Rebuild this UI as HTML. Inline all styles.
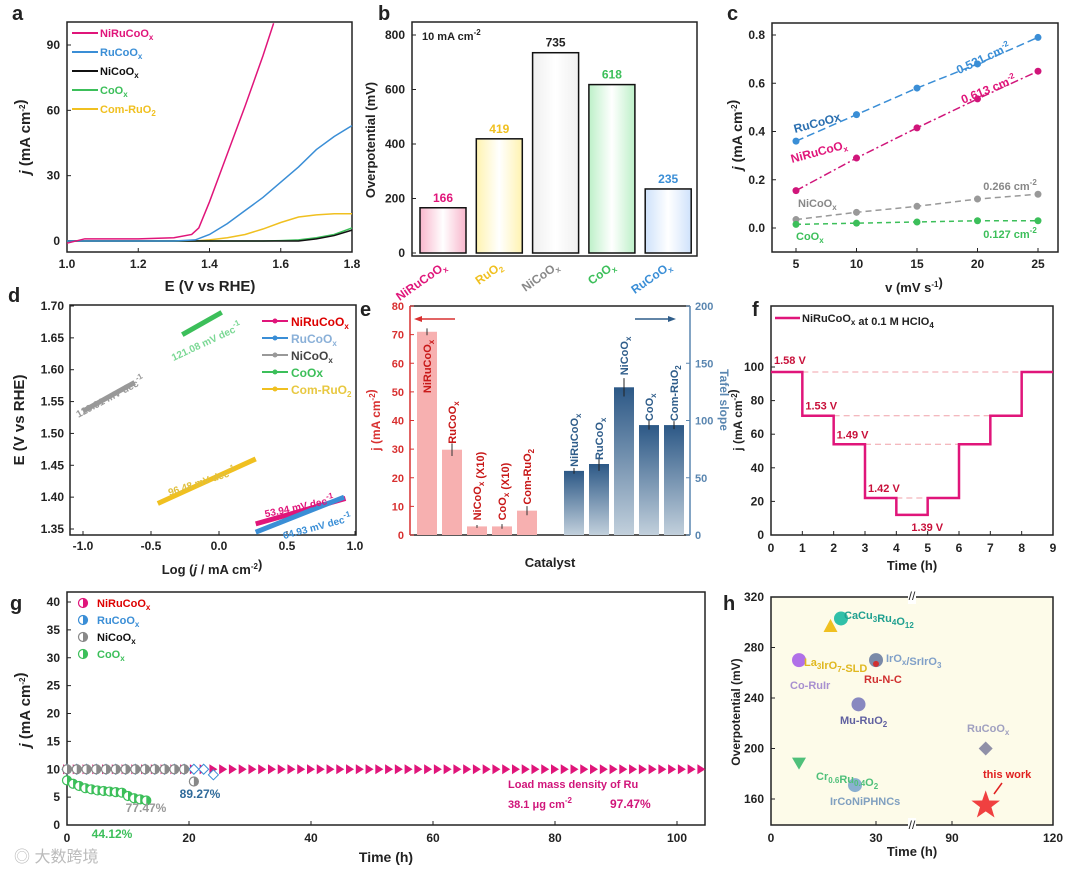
<!DOCTYPE html>
<html><head><meta charset="utf-8"><style>
html,body{margin:0;padding:0;background:#fff}
svg{display:block;font-family:"Liberation Sans",Arial,sans-serif}
</style></head><body>
<svg id="s" width="1080" height="876" viewBox="0 0 1080 876" xmlns="http://www.w3.org/2000/svg"></svg>
<script>
// ---------- data ----------
const aX=[1.0,1.05,1.1,1.2,1.3,1.35,1.37,1.4,1.45,1.5,1.55,1.58];
const aNiRu=[-1,1,1,1,1.5,3,6,18,40,62,85,100];
const aEx=[1.0,1.1,1.2,1.3,1.36,1.4,1.45,1.5,1.55,1.6,1.65,1.7,1.75,1.8];
const aRu=[0,0,0,0,0.5,3,8,14,20,27,34,42,48,53];
const aNiCo=[0,0,0,0,0,0,0,0,0,0,0,1,2.5,5];
const aCo=[0,0,0,0,0,0,0,0,0,0.2,0.5,1.5,3,6];
const aCom=[0,0,0,0,0,0.5,1.5,3,5.5,8.5,11,12,12.5,12.5];
const bCats=["NiRuCoOx","RuO2","NiCoOx","CoOx","RuCoOx"];
const bVals=[166,419,735,618,235];
const cV=[5,10,15,20,25];
const cRu=[0.36,0.47,0.58,0.68,0.79];
const cNiRu=[0.155,0.29,0.415,0.535,0.65];
const cNiCo=[0.035,0.065,0.09,0.12,0.14];
const cCo=[0.015,0.02,0.025,0.03,0.03];
const dNiCo=[[-1,1.535],[-0.62,1.58]];
const dCo=[[-0.27,1.655],[0.02,1.69]];
const dCom=[[-0.45,1.39],[0.27,1.46]];
const dNiRu=[[0.27,1.358],[0.93,1.398]];
const dRu=[[0.27,1.345],[0.92,1.40]];
const eJ=[71,29.8,3,3,8.5];
const eJerr=[1.2,2.2,0.5,0.8,1.6];
const eT=[56,62,129,96,96];
const eTerr=[2.5,6,8,4,3.5];
const fT=[0,1,2,3,4,5,6,7,8,9];
const fJ=[97,71,54,22,12,22,54,71,97];
const fV=["1.58 V","1.53 V","1.49 V","1.42 V","1.39 V"];
const gCoT=[0,1,2,3,4,5,6,7,8,9,10,11,12,13];
const gCo=[8,7.4,7,6.6,6.4,6.2,6.1,6,5.9,5.8,5.2,4.8,4.6,4.4];
const hNames=["Cr0.6Ru0.4O2","Co-RuIr","La3IrO7-SLD","CaCu3Ru4O12","IrCoNiPHNCs","Mu-RuO2","IrOx/SrIrO3","Ru-N-C","RuCoOx","this work"];
const hT=[8,8,17,20,24,25,30,30,100,100];
const hEta=[188,270,297,303,171,235,270,267,200,155];

const S=document.getElementById('s');
const NS="http://www.w3.org/2000/svg";
function el(t,a,name,p){const e=document.createElementNS(NS,t);for(const k in a)e.setAttribute(k,a[k]);


(p||S).appendChild(e);return e;}
function tx(x,y,s,o,name){o=o||{};const e=el('text',{x:x,y:y,'font-size':o.fs||12,'font-weight':o.fw||'bold',fill:o.c||'#222','text-anchor':o.a||'middle'},name||'label');
if(o.r)e.setAttribute('transform','rotate('+o.r+' '+x+' '+y+')');e.innerHTML=s;return e;}
function frame(x0,y0,x1,y1,name){el('rect',{x:x0,y:y0,width:x1-x0,height:y1-y0,fill:'none',stroke:'#222','stroke-width':1.5},name);}
function lin(d0,d1,p0,p1){return v=>p0+(v-d0)*(p1-p0)/(d1-d0);}
function poly(xs,ys,fx,fy,c,w,name,dash){el('polyline',{points:xs.map((x,i)=>fx(x)+','+fy(ys[i])).join(' '),fill:'none',stroke:c,'stroke-width':w,'stroke-dasharray':dash||'none'},name);}
const sub=s=>'<tspan font-size="8" dy="3">'+s+'</tspan><tspan dy="-3"></tspan>';
const sup=s=>'<tspan font-size="8" dy="-5">'+s+'</tspan><tspan dy="5"></tspan>';
const PINK='#e0157a',BLUE='#3a8ed6',GRN='#3cbf5a',YEL='#f0c020';

// ---------- panel a ----------
{const X=lin(1,1.8,67,352),Y=lin(0,90,241,45);
tx(12,20,'a',{fs:20,a:'start'},'panel-a-letter');
frame(67,22,352,252,'panel-a-frame');
[1,1.2,1.4,1.6,1.8].forEach(v=>{el('line',{x1:X(v),x2:X(v),y1:252,y2:248,stroke:'#222'},'x-tick');tx(X(v),268,v.toFixed(1),{fs:12},'x-tick-label');});
[0,30,60,90].forEach(v=>{el('line',{x1:67,x2:71,y1:Y(v),y2:Y(v),stroke:'#222'},'y-tick');tx(60,Y(v)+4,v,{fs:12,a:'end'},'y-tick-label');});
tx(210,291,'E (V vs RHE)',{fs:15},'x-axis-title');
tx(30,137,'<tspan font-style="italic">j</tspan> (mA cm'+sup('-2')+')',{fs:15,r:-90},'y-axis-title');
poly(aEx,aCom,X,Y,YEL,1.5,'series-com-ruo2');poly(aEx,aCo,X,Y,GRN,1.5,'series-coox');poly(aEx,aNiCo,X,Y,'#111',1.5,'series-nicoox');
poly(aEx,aRu,X,Y,BLUE,1.5,'series-rucoox');poly(aX,aNiRu,X,Y,PINK,1.5,'series-nirucoox');
[['NiRuCoO'+sub('x'),PINK],['RuCoO'+sub('x'),BLUE],['NiCoO'+sub('x'),'#111'],['CoO'+sub('x'),GRN],['Com-RuO'+sub('2'),YEL]].forEach((l,i)=>{const y=33+i*19;
el('line',{x1:72,x2:98,y1:y,y2:y,stroke:l[1],'stroke-width':2},'legend-line');tx(100,y+4,l[0],{fs:11,a:'start',c:i==2?'#111':l[1]},'legend-entry');});}

// ---------- panel b ----------
{const Y=lin(0,800,253,35);const cols=[['#f8b6cc','#e0157a'],['#fff3b0','#f0c020'],['#f0f0f0','#888'],['#bdf0c8','#3cbf5a'],['#cfe2fb','#3a8ed6']];
tx(378,20,'b',{fs:20,a:'start'},'panel-b-letter');
frame(412,22,697,256,'panel-b-frame');
[0,200,400,600,800].forEach(v=>{el('line',{x1:412,x2:416,y1:Y(v),y2:Y(v),stroke:'#222'},'y-tick');tx(405,Y(v)+4,v,{fs:12,a:'end'},'y-tick-label');});
tx(375,140,'Overpotential (mV)',{fs:13,r:-90},'y-axis-title');
tx(422,40,'10 mA cm'+sup('-2'),{fs:11,a:'start'},'condition-label');
const lbl=['NiRuCoO'+sub('x'),'RuO'+sub('2'),'NiCoO'+sub('x'),'CoO'+sub('x'),'RuCoO'+sub('x')];
bCats.forEach((c,i)=>{const cx=443+i*56.3,y=Y(bVals[i]);
const g=el('linearGradient',{id:'bg'+i,x1:0,y1:0,x2:1,y2:0},'bar-gradient');
el('stop',{offset:'0','stop-color':cols[i][0]},'stop',g);el('stop',{offset:'0.5','stop-color':'#fff'},'stop',g);el('stop',{offset:'1','stop-color':cols[i][0]},'stop',g);
el('rect',{x:cx-23,y:y,width:46,height:253-y,fill:'url(#bg'+i+')',stroke:'#111','stroke-width':1.5},'bar-'+c.toLowerCase());
tx(cx,y-6,bVals[i],{fs:12,c:i==2?'#222':cols[i][1]},'bar-value');
tx(cx+4,268,lbl[i],{fs:12,c:cols[i][1],r:-35,a:'end'},'x-tick-label');});}

// ---------- panel c ----------
{const X=lin(5,25,796,1038),Y=lin(0,0.8,228,35);
tx(727,20,'c',{fs:20,a:'start'},'panel-c-letter');
frame(772,23,1058,252,'panel-c-frame');
cV.forEach(v=>{el('line',{x1:X(v),x2:X(v),y1:252,y2:248,stroke:'#222'},'x-tick');tx(X(v),268,v,{fs:12},'x-tick-label');});
[0,0.2,0.4,0.6,0.8].forEach(v=>{el('line',{x1:772,x2:776,y1:Y(v),y2:Y(v),stroke:'#222'},'y-tick');tx(765,Y(v)+4,v.toFixed(1),{fs:12,a:'end'},'y-tick-label');});
tx(914,292,'v (mV s'+sup('-1')+')',{fs:13},'x-axis-title');
tx(742,135,'<tspan font-style="italic">j</tspan> (mA cm'+sup('-2')+')',{fs:14,r:-90},'y-axis-title');
[[cRu,BLUE,'8 4','rucoox'],[cNiRu,'#d0157a','8 3 2 3','nirucoox'],[cNiCo,'#999','6 4','nicoox'],[cCo,GRN,'5 4','coox']].forEach(s=>{
el('polyline',{points:cV.map((v,i)=>X(v)+','+Y(s[0][i])).join(' '),fill:'none',stroke:s[1],'stroke-width':1.5,'stroke-dasharray':s[2]},'fit-line-'+s[3]);
cV.forEach((v,i)=>el('circle',{cx:X(v),cy:Y(s[0][i]),r:3.5,fill:s[1]},'point-'+s[3]));});
tx(795,133,'RuCoOx',{fs:12,c:'#2a6fb0',a:'start',r:-15},'label-rucoox');
tx(792,163,'NiRuCoO'+sub('x'),{fs:12,c:PINK,a:'start',r:-15},'label-nirucoox');
tx(798,207,'NiCoO'+sub('x'),{fs:11,c:'#888',a:'start'},'label-nicoox');
tx(796,240,'CoO'+sub('x'),{fs:11,c:GRN,a:'start'},'label-coox');
tx(985,62,'0.531 cm'+sup('-2'),{fs:12,c:BLUE,r:-25},'slope-rucoox');
tx(990,93,'0.613 cm'+sup('-2'),{fs:12,c:PINK,r:-22},'slope-nirucoox');
tx(1010,190,'0.266 cm'+sup('-2'),{fs:11,c:'#888'},'slope-nicoox');
tx(1010,238,'0.127 cm'+sup('-2'),{fs:11,c:GRN},'slope-coox');}

// ---------- panel d ----------
{const X=lin(-1,0.5,83,287),Y=lin(1.35,1.70,529,306);
tx(8,302,'d',{fs:20,a:'start'},'panel-d-letter');
frame(70,305,356,535,'panel-d-frame');
[-1,-0.5,0,0.5,1].forEach(v=>{el('line',{x1:X(v),x2:X(v),y1:535,y2:531,stroke:'#222'},'x-tick');tx(X(v),550,v.toFixed(1),{fs:12},'x-tick-label');});
[1.35,1.4,1.45,1.5,1.55,1.6,1.65,1.7].forEach(v=>{el('line',{x1:70,x2:74,y1:Y(v),y2:Y(v),stroke:'#222'},'y-tick');tx(64,Y(v)+4,v.toFixed(2),{fs:12,a:'end'},'y-tick-label');});
tx(212,574,'Log (<tspan font-style="italic">j</tspan> / mA cm'+sup('-2')+')',{fs:13},'x-axis-title');
tx(24,420,'E (V vs RHE)',{fs:15,r:-90},'y-axis-title');
[[dNiCo,'#999','nicoox'],[dCo,GRN,'coox'],[dCom,YEL,'com-ruo2'],[dNiRu,PINK,'nirucoox'],[dRu,BLUE,'rucoox']].forEach(s=>el('line',{x1:X(s[0][0][0]),y1:Y(s[0][0][1]),x2:X(s[0][1][0]),y2:Y(s[0][1][1]),stroke:s[1],'stroke-width':5},'tafel-'+s[2]));
tx(112,400,'129.91 mV dec'+sup('-1'),{fs:10,c:'#999',r:-28},'slope-nicoox');
tx(208,345,'121.08 mV dec'+sup('-1'),{fs:10,c:'#7ad894',r:-25},'slope-coox');
tx(203,485,'96.48 mV dec'+sup('-1'),{fs:10,c:'#e0c040',r:-18},'slope-com-ruo2');
tx(300,510,'53.94 mV dec'+sup('-1'),{fs:10,c:PINK,r:-12},'slope-nirucoox');
tx(318,530,'64.93 mV dec'+sup('-1'),{fs:10,c:BLUE,r:-15},'slope-rucoox');
[['NiRuCoO'+sub('x'),PINK],['RuCoO'+sub('x'),BLUE],['NiCoO'+sub('x'),'#999'],['CoOx',GRN],['Com-RuO'+sub('2'),YEL]].forEach((l,i)=>{const y=321+i*17;
el('line',{x1:262,x2:288,y1:y,y2:y,stroke:l[1],'stroke-width':2},'legend-line');el('circle',{cx:275,cy:y,r:2.5,fill:l[1]},'legend-marker');
tx(291,y+5,l[0],{fs:12,a:'start',c:i==2?'#444':(i==0?'#d00':(i==1?'#8ab0d8':(i==4?'#e8c840':l[1])))},'legend-entry');});}

// ---------- panel e ----------
{const YL=lin(0,80,535,306),YR=lin(0,200,535,306);const RED='#d83030',NB='#2f5d8a';
tx(360,316,'e',{fs:20,a:'start'},'panel-e-letter');
el('line',{x1:410,x2:690,y1:306,y2:306,stroke:'#222','stroke-width':1.5},'frame-top');el('line',{x1:410,x2:690,y1:535,y2:535,stroke:'#222','stroke-width':1.5},'frame-bottom');
el('line',{x1:410,x2:410,y1:306,y2:535,stroke:RED,'stroke-width':1.5},'left-axis');el('line',{x1:690,x2:690,y1:306,y2:535,stroke:'#5a86b0','stroke-width':1.5},'right-axis');
[0,10,20,30,40,50,60,70,80].forEach(v=>{el('line',{x1:410,x2:414,y1:YL(v),y2:YL(v),stroke:RED},'y-tick');tx(404,YL(v)+4,v,{fs:11,c:RED,a:'end'},'y-tick-label');});
[0,50,100,150,200].forEach(v=>{el('line',{x1:686,x2:690,y1:YR(v),y2:YR(v),stroke:'#5a86b0'},'y2-tick');tx(695,YR(v)+4,v,{fs:11,c:'#5a86b0',a:'start'},'y2-tick-label');});
tx(380,420,'j (mA cm'+sup('-2')+')',{fs:12,c:RED,r:-90},'y-axis-title');
tx(720,400,'Tafel slope',{fs:12,c:'#5a86b0',r:90},'y2-axis-title');
tx(550,567,'Catalyst',{fs:13},'x-axis-title');
el('line',{x1:417,x2:455,y1:319,y2:319,stroke:RED,'stroke-width':1.5},'arrow-left');el('polygon',{points:'414,319 422,316 422,322',fill:RED},'arrow-head');
el('line',{x1:635,x2:672,y1:319,y2:319,stroke:NB,'stroke-width':1.5},'arrow-right');el('polygon',{points:'676,319 668,316 668,322',fill:NB},'arrow-head');
const g=el('linearGradient',{id:'eg',x1:0,y1:0,x2:0,y2:1},'bar-gradient');el('stop',{offset:'0','stop-color':'#2c5886'},'stop',g);el('stop',{offset:'1','stop-color':'#c2d0dc'},'stop',g);
const ln=['NiRuCoO'+sub('x'),'RuCoO'+sub('x'),'NiCoO'+sub('x')+' (X10)','CoO'+sub('x')+' (X10)','Com-RuO'+sub('2')];
const rn=['NiRuCoO'+sub('x'),'RuCoO'+sub('x'),'NiCoO'+sub('x'),'CoO'+sub('x'),'Com-RuO'+sub('2')];
eJ.forEach((v,i)=>{const cx=427+i*25,y=YL(v);el('rect',{x:cx-10,y:y,width:20,height:535-y,fill:'#f7b0b0'},'bar-j-'+i);
el('line',{x1:cx,x2:cx,y1:YL(v+eJerr[i]),y2:YL(v-eJerr[i]),stroke:'#333'},'error-bar');
tx(cx+4,(i==0?y+8:y-6),ln[i],{fs:11,c:'#c81818',r:-90,a:i==0?'end':'start'},'bar-label');});
eT.forEach((v,i)=>{const cx=574+i*25,y=YR(v);el('rect',{x:cx-10,y:y,width:20,height:535-y,fill:'url(#eg)'},'bar-tafel-'+i);
el('line',{x1:cx,x2:cx,y1:YR(v+eTerr[i]),y2:YR(v-eTerr[i]),stroke:'#222'},'error-bar');
tx(cx+4,y-(i==2?12:4),rn[i],{fs:11,c:'#2f5d8a',r:-90,a:'start'},'bar-label');});}

// ---------- panel f ----------
{const X=lin(0,9,771,1053),Y=lin(0,100,535,367);
tx(752,316,'f',{fs:20,a:'start'},'panel-f-letter');
frame(771,306,1053,535,'panel-f-frame');
fT.forEach(v=>{el('line',{x1:X(v),x2:X(v),y1:535,y2:531,stroke:'#222'},'x-tick');tx(X(v),552,v,{fs:12},'x-tick-label');});
[0,20,40,60,80,100].forEach(v=>{el('line',{x1:771,x2:775,y1:Y(v),y2:Y(v),stroke:'#222'},'y-tick');tx(764,Y(v)+4,v,{fs:12,a:'end'},'y-tick-label');});
tx(912,570,'Time (h)',{fs:13},'x-axis-title');
tx(742,420,'j (mA cm'+sup('-2')+')',{fs:12,r:-90},'y-axis-title');
let pts=[];fJ.forEach((v,i)=>{pts.push(X(fT[i])+','+Y(v));pts.push(X(fT[i+1])+','+Y(v));});
[0,1,2,3].forEach(i=>el('line',{x1:X(i+1),x2:X(8-i),y1:Y(fJ[i]),y2:Y(fJ[i]),stroke:'#f0a0a8','stroke-dasharray':'6 4'},'guide-line'));
el('polyline',{points:pts.join(' '),fill:'none',stroke:PINK,'stroke-width':2.5},'series-step');
el('line',{x1:775,x2:800,y1:318,y2:318,stroke:PINK,'stroke-width':2.5},'legend-line');
tx(802,322,'NiRuCoO'+sub('x')+' at 0.1 M HClO'+sub('4'),{fs:11,a:'start'},'legend-entry');
fV.forEach((t,i)=>tx(X(i)+3+(i==4?12:0),Y(fJ[i])-6+(i==4?22:0)+(i==0?-2:0),t,{fs:11,c:'#c8103a',a:'start'},'voltage-label'));}

// ---------- panel g ----------
{const X=lin(0,100,67,677),Y=lin(0,40,825,602);
tx(10,610,'g',{fs:20,a:'start'},'panel-g-letter');
frame(67,592,705,825,'panel-g-frame');
[0,20,40,60,80,100].forEach(v=>{el('line',{x1:X(v),x2:X(v),y1:825,y2:821,stroke:'#222'},'x-tick');tx(X(v),842,v,{fs:12},'x-tick-label');});
[0,5,10,15,20,25,30,35,40].forEach(v=>{el('line',{x1:67,x2:71,y1:Y(v),y2:Y(v),stroke:'#222'},'y-tick');tx(60,Y(v)+4,v,{fs:12,a:'end'},'y-tick-label');});
tx(386,862,'Time (h)',{fs:14},'x-axis-title');
tx(30,710,'<tspan font-style="italic">j</tspan> (mA cm'+sup('-2')+')',{fs:15,r:-90},'y-axis-title');
function mk(x,y,c,name){el('circle',{cx:x,cy:y,r:4.5,fill:'#fff',stroke:c,'stroke-width':1.2},name);el('path',{d:'M'+x+','+(y-4.5)+' A4.5,4.5 0 0,1 '+x+','+(y+4.5)+'Z',fill:c},name+'-half');}
for(let t=0;t<=105;t+=1.6){const x=X(t),y=Y(10);el('polygon',{points:(x-4)+','+(y-5)+' '+(x+4)+','+y+' '+(x-4)+','+(y+5),fill:PINK},'marker-nirucoox');}
for(let t=0;t<=25;t+=1.6){const x=X(t),y=Y(t>24?9:10);el('polygon',{points:x+','+(y-5)+' '+(x+5)+','+y+' '+x+','+(y+5)+' '+(x-5)+','+y,fill:'#fff',stroke:BLUE},'marker-rucoox');}
for(let t=0;t<=21;t+=1.6){mk(X(t),Y(t>20?7.8:10),'#888','marker-nicoox');}
gCoT.forEach((t,i)=>mk(X(t),Y(gCo[i]),GRN,'marker-coox'));
[['NiRuCoO'+sub('x'),'#d00'],['RuCoO'+sub('x'),BLUE],['NiCoO'+sub('x'),'#111'],['CoO'+sub('x'),GRN]].forEach((l,i)=>{const y=603+i*17;
mk(83,y,['#e0157a',BLUE,'#888',GRN][i],'legend-marker');tx(97,y+4,l[0],{fs:11,a:'start',c:l[1]},'legend-entry');});
tx(200,798,'89.27%',{fs:12,c:'#2f6a9a'},'retention-rucoox');tx(146,812,'77.47%',{fs:12,c:'#999'},'retention-nicoox');
tx(112,838,'44.12%',{fs:12,c:GRN},'retention-coox');
tx(508,788,'Load mass density of Ru',{fs:11,c:'#d0157a',a:'start'},'note-load');
tx(508,808,'38.1 μg cm'+sup('-2'),{fs:11,c:'#d0157a',a:'start'},'note-density');tx(610,808,'97.47%',{fs:12,c:'#d0157a',a:'start'},'retention-nirucoox');}

// ---------- panel h ----------
{const X=v=>v<=30?771+v*3.5:952+(v-90)*3.37,Y=lin(160,320,799,597);
tx(723,610,'h',{fs:20,a:'start'},'panel-h-letter');
el('rect',{x:771,y:597,width:282,height:228,fill:'#fdfbe9',stroke:'#222','stroke-width':1.5},'panel-h-frame');
el('rect',{x:908,y:590,width:8,height:14,fill:'#fff'},'axis-break');el('rect',{x:908,y:818,width:8,height:14,fill:'#fff'},'axis-break');
tx(912,600,'//',{fs:12,fw:'normal'},'break-mark');tx(912,829,'//',{fs:12,fw:'normal'},'break-mark');
[[0,'0'],[30,'30'],[90,'90'],[120,'120']].forEach(v=>{const x=v[0]==120?1053:X(v[0]);el('line',{x1:x,x2:x,y1:825,y2:821,stroke:'#222'},'x-tick');tx(x,842,v[1],{fs:12},'x-tick-label');});
[160,200,240,280,320].forEach(v=>{el('line',{x1:771,x2:775,y1:Y(v),y2:Y(v),stroke:'#222'},'y-tick');tx(764,Y(v)+4,v,{fs:12,a:'end'},'y-tick-label');});
tx(912,856,'Time (h)',{fs:13},'x-axis-title');
tx(740,712,'Overpotential (mV)',{fs:12,r:-90},'y-axis-title');
const cols=['#4fc07a','#b070e8','#f0c020','#30c0a8','#8ab0d0','#8888c0','#7a8aa8','#d03030','#9090a8','#f04040'];
hNames.forEach((n,i)=>{const x=X(hT[i]),y=Y(hEta[i]),c=cols[i];const name='point-'+n.toLowerCase().replace(/[^a-z0-9]+/g,'-');
if(i==0)el('polygon',{points:(x-7)+','+(y-6)+' '+(x+7)+','+(y-6)+' '+x+','+(y+6),fill:c},name);
else if(i==2)el('polygon',{points:(x-7)+','+(y+6)+' '+(x+7)+','+(y+6)+' '+x+','+(y-7),fill:c},name);
else if(i==8)el('polygon',{points:x+','+(y-7)+' '+(x+7)+','+y+' '+x+','+(y+7)+' '+(x-7)+','+y,fill:c},name);
else if(i==9){let p=[];for(let k=0;k<10;k++){const r=k%2?6:15,a=-Math.PI/2+k*Math.PI/5;p.push((x+r*Math.cos(a))+','+(y+r*Math.sin(a)));}el('polygon',{points:p.join(' '),fill:c},name);}
else el('circle',{cx:x,cy:y,r:i==7?3:7,fill:c},name);});
tx(816,780,'Cr'+sub('0.6')+'Ru'+sub('0.4')+'O'+sub('2'),{fs:11,c:'#4fc07a',a:'start'},'label-cr-ru');
tx(790,689,'Co-RuIr',{fs:11,c:'#a890d0',a:'start'},'label-co-ruir');
tx(804,666,'La'+sub('3')+'IrO'+sub('7')+'-SLD',{fs:11,c:'#e0b820',a:'start'},'label-la3iro7');
tx(844,619,'CaCu'+sub('3')+'Ru'+sub('4')+'O'+sub('12'),{fs:11,c:'#20a090',a:'start'},'label-cacu3ru4o12');
tx(830,805,'IrCoNiPHNCs',{fs:11,c:'#80a0c0',a:'start'},'label-irconiphncs');
tx(840,724,'Mu-RuO'+sub('2'),{fs:11,c:'#6060a0',a:'start'},'label-mu-ruo2');
tx(886,662,'IrO'+sub('x')+'/SrIrO'+sub('3'),{fs:11,c:'#80a0c8',a:'start'},'label-irox-sriro3');
tx(864,683,'Ru-N-C',{fs:11,c:'#d03030',a:'start'},'label-ru-n-c');
tx(967,732,'RuCoO'+sub('x'),{fs:11,c:'#a0a0c0',a:'start'},'label-rucoox');
tx(983,778,'this work',{fs:11,c:'#e02020',a:'start'},'label-this-work');
el('line',{x1:1002,y1:783,x2:994,y2:794,stroke:'#e02020','stroke-width':1.5},'arrow-this-work');}

// watermark
tx(14,862,'◎ 大数跨境',{fs:16,c:'#bbb',a:'start',fw:'normal'},'watermark').setAttribute('font-family','"Liberation Sans","Noto Sans CJK SC",sans-serif');
</script>
</body></html>
